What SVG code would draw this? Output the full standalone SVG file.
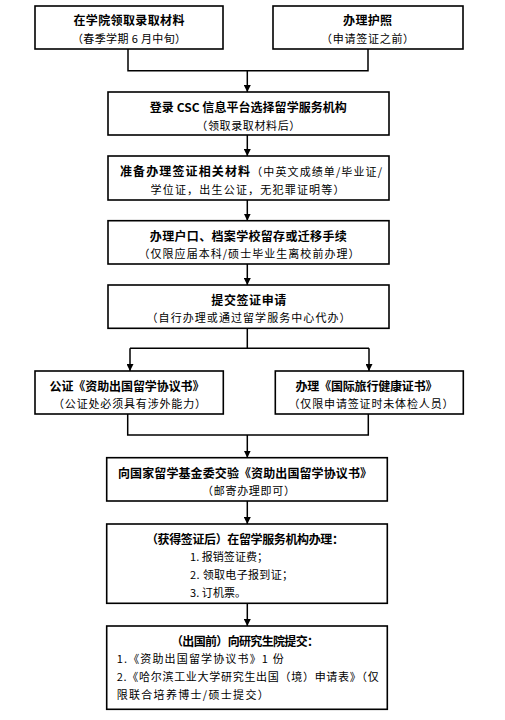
<svg xmlns="http://www.w3.org/2000/svg" width="505" height="720" viewBox="0 0 505 720">
<style>
.box{fill:#fff;stroke:#000;stroke-width:1.6}
.t{font-family:"Noto Sans CJK SC","Liberation Serif",sans-serif;font-size:12px;font-weight:700;fill:#000}
.s{font-family:"Noto Sans CJK SC","Liberation Serif",sans-serif;font-size:11px;font-weight:400;fill:#000}
.c{fill:none;stroke:#000;stroke-width:1.5}
</style>
<defs>
<marker id="ah" markerUnits="userSpaceOnUse" markerWidth="8" markerHeight="7" refX="7" refY="3.5" orient="auto">
<path d="M0,0 L7,3.5 L0,7 z" fill="#000"/>
</marker>
</defs>
<rect width="505" height="720" fill="#fff"/>
<g id="connectors">
<path class="c" d="M128,49 V70.7 H368 V49"/>
<path class="c" d="M247.3,70.7 V92" marker-end="url(#ah)"/>
<path class="c" d="M247.3,135 V156" marker-end="url(#ah)"/>
<path class="c" d="M247.3,200 V220.7" marker-end="url(#ah)"/>
<path class="c" d="M247.3,264 V285" marker-end="url(#ah)"/>
<path class="c" d="M247.3,328.3 V348.3 M130,348.3 H369"/>
<path class="c" d="M130,348.3 V371" marker-end="url(#ah)"/>
<path class="c" d="M369,348.3 V371" marker-end="url(#ah)"/>
<path class="c" d="M127.7,414 V435 H368.3 V414"/>
<path class="c" d="M247.3,435 V457.7" marker-end="url(#ah)"/>
<path class="c" d="M247.3,501 V524" marker-end="url(#ah)"/>
<path class="c" d="M247.3,603.3 V626" marker-end="url(#ah)"/>
</g>
<g id="n1">
<rect class="box" x="35" y="6" width="188" height="43"/>
<text class="t" x="129" y="25.3" text-anchor="middle" textLength="111" lengthAdjust="spacing">在学院领取录取材料</text>
<text class="s" x="129" y="43" text-anchor="middle" textLength="114" lengthAdjust="spacing">（春季学期 6 月中旬）</text>
</g>
<g id="n2">
<rect class="box" x="273" y="6" width="190" height="43"/>
<text class="t" x="367.6" y="25.3" text-anchor="middle" textLength="49" lengthAdjust="spacing">办理护照</text>
<text class="s" x="367.6" y="43" text-anchor="middle" textLength="93" lengthAdjust="spacing">（申请签证之前）</text>
</g>
<g id="n3">
<rect class="box" x="108" y="92" width="281" height="43"/>
<text class="t" x="248.3" y="112.2" text-anchor="middle" textLength="197" lengthAdjust="spacing">登录 CSC 信息平台选择留学服务机构</text>
<text class="s" x="248.3" y="129.8" text-anchor="middle" textLength="104" lengthAdjust="spacing">（领取录取材料后）</text>
</g>
<g id="n4">
<rect class="box" x="108" y="156" width="281" height="44"/>
<text x="120" y="176.2" textLength="262" lengthAdjust="spacing"><tspan class="t">准备办理签证相关材料</tspan><tspan class="s">（中英文成绩单/毕业证/</tspan></text>
<text class="s" x="247.5" y="194.1" text-anchor="middle" textLength="194" lengthAdjust="spacing">学位证，出生公证，无犯罪证明等）</text>
</g>
<g id="n5">
<rect class="box" x="108" y="220.7" width="281" height="43.3"/>
<text class="t" x="248.3" y="240.5" text-anchor="middle" textLength="197" lengthAdjust="spacing">办理户口、档案学校留存或迁移手续</text>
<text class="s" x="249" y="258.4" text-anchor="middle" textLength="221" lengthAdjust="spacing">（仅限应届本科/硕士毕业生离校前办理）</text>
</g>
<g id="n6">
<rect class="box" x="108" y="285" width="281" height="43.3"/>
<text class="t" x="248.8" y="304.5" text-anchor="middle" textLength="75" lengthAdjust="spacing">提交签证申请</text>
<text class="s" x="248.5" y="322.1" text-anchor="middle" textLength="204" lengthAdjust="spacing">（自行办理或通过留学服务中心代办）</text>
</g>
<g id="n7">
<rect class="box" x="35" y="371" width="188.3" height="43"/>
<text class="t" x="127" y="390.5" text-anchor="middle" textLength="155" lengthAdjust="spacing">公证《资助出国留学协议书》</text>
<text class="s" x="129.5" y="408.1" text-anchor="middle" textLength="153" lengthAdjust="spacing">（公证处必须具有涉外能力）</text>
</g>
<g id="n8">
<rect class="box" x="275.3" y="371" width="188" height="43"/>
<text class="t" x="366.5" y="390.5" text-anchor="middle" textLength="142" lengthAdjust="spacing">办理《国际旅行健康证书》</text>
<text class="s" x="371" y="408.1" text-anchor="middle" textLength="165" lengthAdjust="spacing">（仅限申请签证时未体检人员）</text>
</g>
<g id="n9">
<rect class="box" x="106.7" y="457.7" width="280.6" height="43.3"/>
<text class="t" x="245" y="477.8" text-anchor="middle" textLength="254" lengthAdjust="spacing">向国家留学基金委交验《资助出国留学协议书》</text>
<text class="s" x="248.5" y="495.1" text-anchor="middle" textLength="93" lengthAdjust="spacing">（邮寄办理即可）</text>
</g>
<g id="n10">
<rect class="box" x="106.7" y="524" width="280.6" height="79.3"/>
<text class="t" x="146" y="543.8" textLength="198" lengthAdjust="spacing">（获得签证后）在留学服务机构办理：</text>
<text class="s" x="190" y="561.4" textLength="78" lengthAdjust="spacing">1. 报销签证费；</text>
<text class="s" x="190" y="579.1" textLength="103" lengthAdjust="spacing">2. 领取电子报到证；</text>
<text class="s" x="190" y="597.4" textLength="56" lengthAdjust="spacing">3. 订机票。</text>
</g>
<g id="n11">
<rect class="box" x="106.7" y="626" width="280.6" height="83.3"/>
<text class="t" x="171" y="646.2" textLength="148" lengthAdjust="spacing">（出国前）向研究生院提交：</text>
<text class="s" x="116.7" y="663.4" textLength="167" lengthAdjust="spacing">1.《资助出国留学协议书》1 份</text>
<text class="s" x="116.7" y="681.4" textLength="262" lengthAdjust="spacing">2.《哈尔滨工业大学研究生出国（境）申请表》（仅</text>
<text class="s" x="116.7" y="699.1" textLength="152" lengthAdjust="spacing">限联合培养博士/硕士提交）</text>
</g>
</svg>
